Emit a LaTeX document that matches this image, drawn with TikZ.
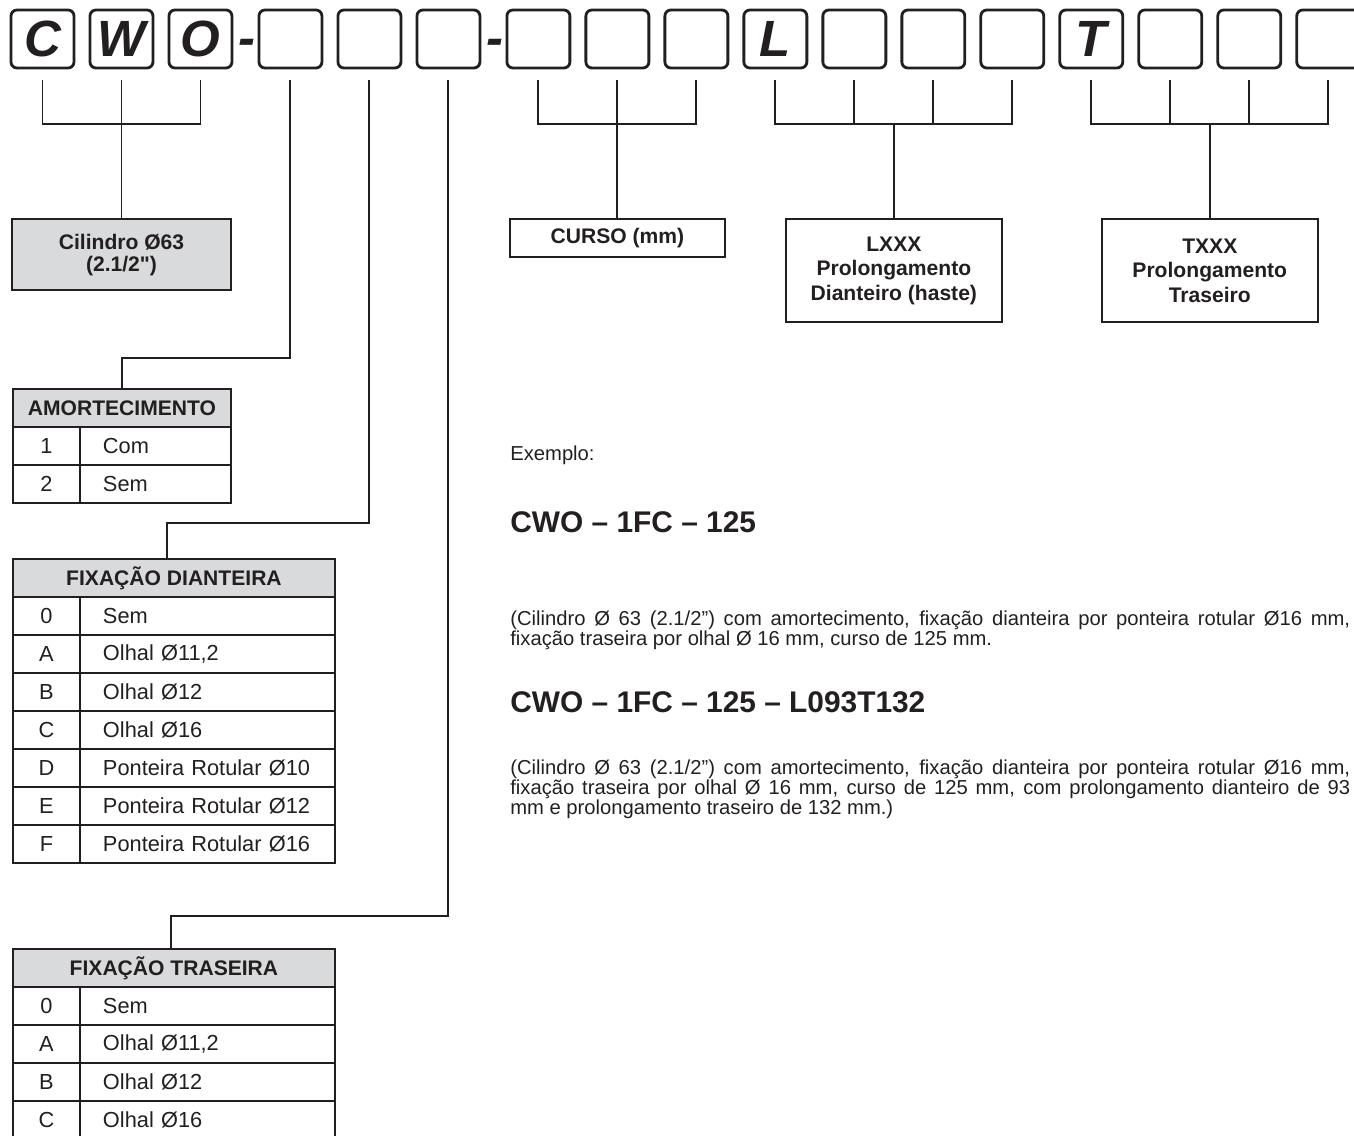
\documentclass[tikz,border=0pt]{standalone}
\usepackage{fontspec}
\setmainfont{Liberation Sans}[Ligatures=TeXOff]
\usetikzlibrary{positioning, calc}

\definecolor{ink}{RGB}{35,31,32}
\definecolor{hdrgray}{RGB}{217,218,219}

\begin{document}
\begin{tikzpicture}[x=0.02cm, y=-0.02cm,
    codebox/.style={draw=ink, line width=1.6pt, rounded corners=0.12cm, minimum width=1.26cm, minimum height=1.16cm, inner sep=0pt, outer sep=0pt, text=ink, font=\fontsize{29}{30}\selectfont\bfseries\itshape},
    sepchar/.style={inner sep=0pt, text=ink, font=\fontsize{29}{30}\selectfont\bfseries\itshape},
    link/.style={draw=ink, line width=1.1pt},
    infobox/.style={draw=ink, line width=1.3pt, inner sep=0pt, align=center, text=ink, font=\fontsize{12}{14}\selectfont\bfseries},
    thead/.style={draw=ink, line width=1.3pt, fill=hdrgray, minimum height=0.76cm, inner sep=0pt, outer sep=0pt, anchor=north west, text=ink, font=\fontsize{12}{14}\selectfont\bfseries},
    numcell/.style={draw=ink, line width=1.3pt, minimum width=1.34cm, minimum height=0.76cm, inner sep=0pt, outer sep=0pt, anchor=north west, text=ink, font=\fontsize{12.4}{14}\selectfont},
    txtcell/.style={draw=ink, line width=1.3pt, minimum height=0.76cm, inner xsep=0.46cm, inner ysep=0pt, outer sep=0pt, anchor=north west, align=left, text=ink, font=\fontsize{12.4}{14}\selectfont},
    plaintext/.style={inner sep=0pt, anchor=west, align=left, text=ink, font=\fontsize{11.5}{11.3}\selectfont},
    codetitle/.style={inner sep=0pt, anchor=west, text=ink, font=\fontsize{17}{20}\selectfont\bfseries}
  ]
  \useasboundingbox (0,0) rectangle (1354,1135);
  \clip (0,0) rectangle (1354,1135);

  % code boxes
  \node[codebox] (b1) at (42.5,39) {C};
  \node[codebox, right=0.32cm of b1] (b2) {W};
  \node[codebox, right=0.32cm of b2] (b3) {O};
  \node[codebox, right=0.54cm of b3] (b4) {};
  \node[codebox, right=0.32cm of b4] (b5) {};
  \node[codebox, right=0.32cm of b5] (b6) {};
  \node[codebox, right=0.54cm of b6] (b7) {};
  \node[codebox, right=0.32cm of b7] (b8) {};
  \node[codebox, right=0.32cm of b8] (b9) {};
  \node[codebox, right=0.32cm of b9] (b10) {L};
  \node[codebox, right=0.32cm of b10] (b11) {};
  \node[codebox, right=0.32cm of b11] (b12) {};
  \node[codebox, right=0.32cm of b12] (b13) {};
  \node[codebox, right=0.32cm of b13] (b14) {T};
  \node[codebox, right=0.32cm of b14] (b15) {};
  \node[codebox, right=0.32cm of b15] (b16) {};
  \node[codebox, right=0.32cm of b16] (b17) {};
  \node[sepchar] (d1) at ($(b3.east)!0.5!(b4.west)+(0.04cm,-0.17cm)$) {-};
  \node[sepchar] (d2) at ($(b6.east)!0.5!(b7.west)+(0.04cm,-0.17cm)$) {-};

  % boxes below the code
  \node[infobox, fill=hdrgray, minimum width=4.38cm, minimum height=1.42cm, below=3cm of b2, font=\fontsize{12}{12.5}\selectfont\bfseries] (cil) {Cilindro Ø63\\(2.1/2")};
  \node[infobox, minimum width=4.3cm, minimum height=0.76cm, below=3cm of b8] (curso) {CURSO (mm)};
  \coordinate (lmid) at ($(b11.south)!0.5!(b12.south)$);
  \coordinate (tmid) at ($(b15.south)!0.5!(b16.south)$);
  \node[infobox, minimum width=4.32cm, minimum height=2.06cm, below=3cm of lmid] (lbox) {LXXX\\Prolongamento\\Dianteiro (haste)};
  \node[infobox, minimum width=4.32cm, minimum height=2.06cm, below=3cm of tmid] (tbox) {TXXX\\Prolongamento\\Traseiro};

  % brackets
  \draw[link] ([yshift=-0.24cm]b1.south) -- (b1 |- 0,124) -- (b3 |- 0,124) -- ([yshift=-0.24cm]b3.south);
  \draw[link] ([yshift=-0.24cm]b2.south) -- (cil.north);
  \draw[link] ([yshift=-0.24cm]b7.south) -- (b7 |- 0,124) -- (b9 |- 0,124) -- ([yshift=-0.24cm]b9.south);
  \draw[link] ([yshift=-0.24cm]b8.south) -- (curso.north);
  \draw[link] ([yshift=-0.24cm]b10.south) -- (b10 |- 0,124) -- (b13 |- 0,124) -- ([yshift=-0.24cm]b13.south);
  \draw[link] ([yshift=-0.24cm]b11.south) -- (b11 |- 0,124);
  \draw[link] ([yshift=-0.24cm]b12.south) -- (b12 |- 0,124);
  \draw[link] (lbox.north) -- (lbox |- 0,124);
  \draw[link] ([yshift=-0.24cm]b14.south) -- (b14 |- 0,124) -- (b17 |- 0,124) -- ([yshift=-0.24cm]b17.south);
  \draw[link] ([yshift=-0.24cm]b15.south) -- (b15 |- 0,124);
  \draw[link] ([yshift=-0.24cm]b16.south) -- (b16 |- 0,124);
  \draw[link] (tbox.north) -- (tbox |- 0,124);

  % tables
  \node[thead, minimum width=4.36cm] (amort) at (13,389) {AMORTECIMENTO};
  \foreach \n/\t [count=\i] in {1/Com, 2/Sem} {
    \node[numcell] (amort-n\i) at (13,{389+38*\i}) {\n};
    \node[txtcell, text width=2.1cm] (amort-t\i) at (80,{389+38*\i}) {\t};
  }
  \node[thead, minimum width=6.44cm] (fixd) at (13,559) {FIXAÇÃO DIANTEIRA};
  \foreach \n/\t [count=\i] in {0/Sem, A/Olhal Ø11{,}2, B/Olhal Ø12, C/Olhal Ø16, D/Ponteira Rotular Ø10, E/Ponteira Rotular Ø12, F/Ponteira Rotular Ø16} {
    \node[numcell] (fixd-n\i) at (13,{559+38*\i}) {\n};
    \node[txtcell, text width=4.18cm] (fixd-t\i) at (80,{559+38*\i}) {\t};
  }
  \node[thead, minimum width=6.44cm] (fixt) at (13,949) {FIXAÇÃO TRASEIRA};
  \foreach \n/\t [count=\i] in {0/Sem, A/Olhal Ø11{,}2, B/Olhal Ø12, C/Olhal Ø16} {
    \node[numcell] (fixt-n\i) at (13,{949+38*\i}) {\n};
    \node[txtcell, text width=4.18cm] (fixt-t\i) at (80,{949+38*\i}) {\t};
  }

  % links to the tables
  \draw[link] ([yshift=-0.24cm]b4.south) |- (amort.north |- 0,358) -- (amort.north);
  \coordinate (k5) at (167,523);
  \draw[link] ([yshift=-0.24cm]b5.south) |- (k5) -- (k5 |- fixd.north);
  \coordinate (k6) at (171,916);
  \draw[link] ([yshift=-0.24cm]b6.south) |- (k6) -- (k6 |- fixt.north);

  % example
  \node[plaintext] (exlbl) at (510,455) {Exemplo:};
  \node[codetitle] (ex1) at (510,522) {CWO – 1FC – 125};
  \node[plaintext] (ex1txt) at (510,630) {\makebox[16.8cm][s]{(Cilindro Ø 63 (2.1/2”) com amortecimento, fixação dianteira por ponteira rotular Ø16 mm,}\\fixação traseira por olhal Ø 16 mm, curso de 125 mm.};
  \node[codetitle] (ex2) at (510,702) {CWO – 1FC – 125 – L093T132};
  \node[plaintext] (ex2txt) at (510,789) {\makebox[16.8cm][s]{(Cilindro Ø 63 (2.1/2”) com amortecimento, fixação dianteira por ponteira rotular Ø16 mm,}\\\makebox[16.8cm][s]{fixação traseira por olhal Ø 16 mm, curso de 125 mm, com prolongamento dianteiro de 93}\\mm e prolongamento traseiro de 132 mm.)};
\end{tikzpicture}
\end{document}
